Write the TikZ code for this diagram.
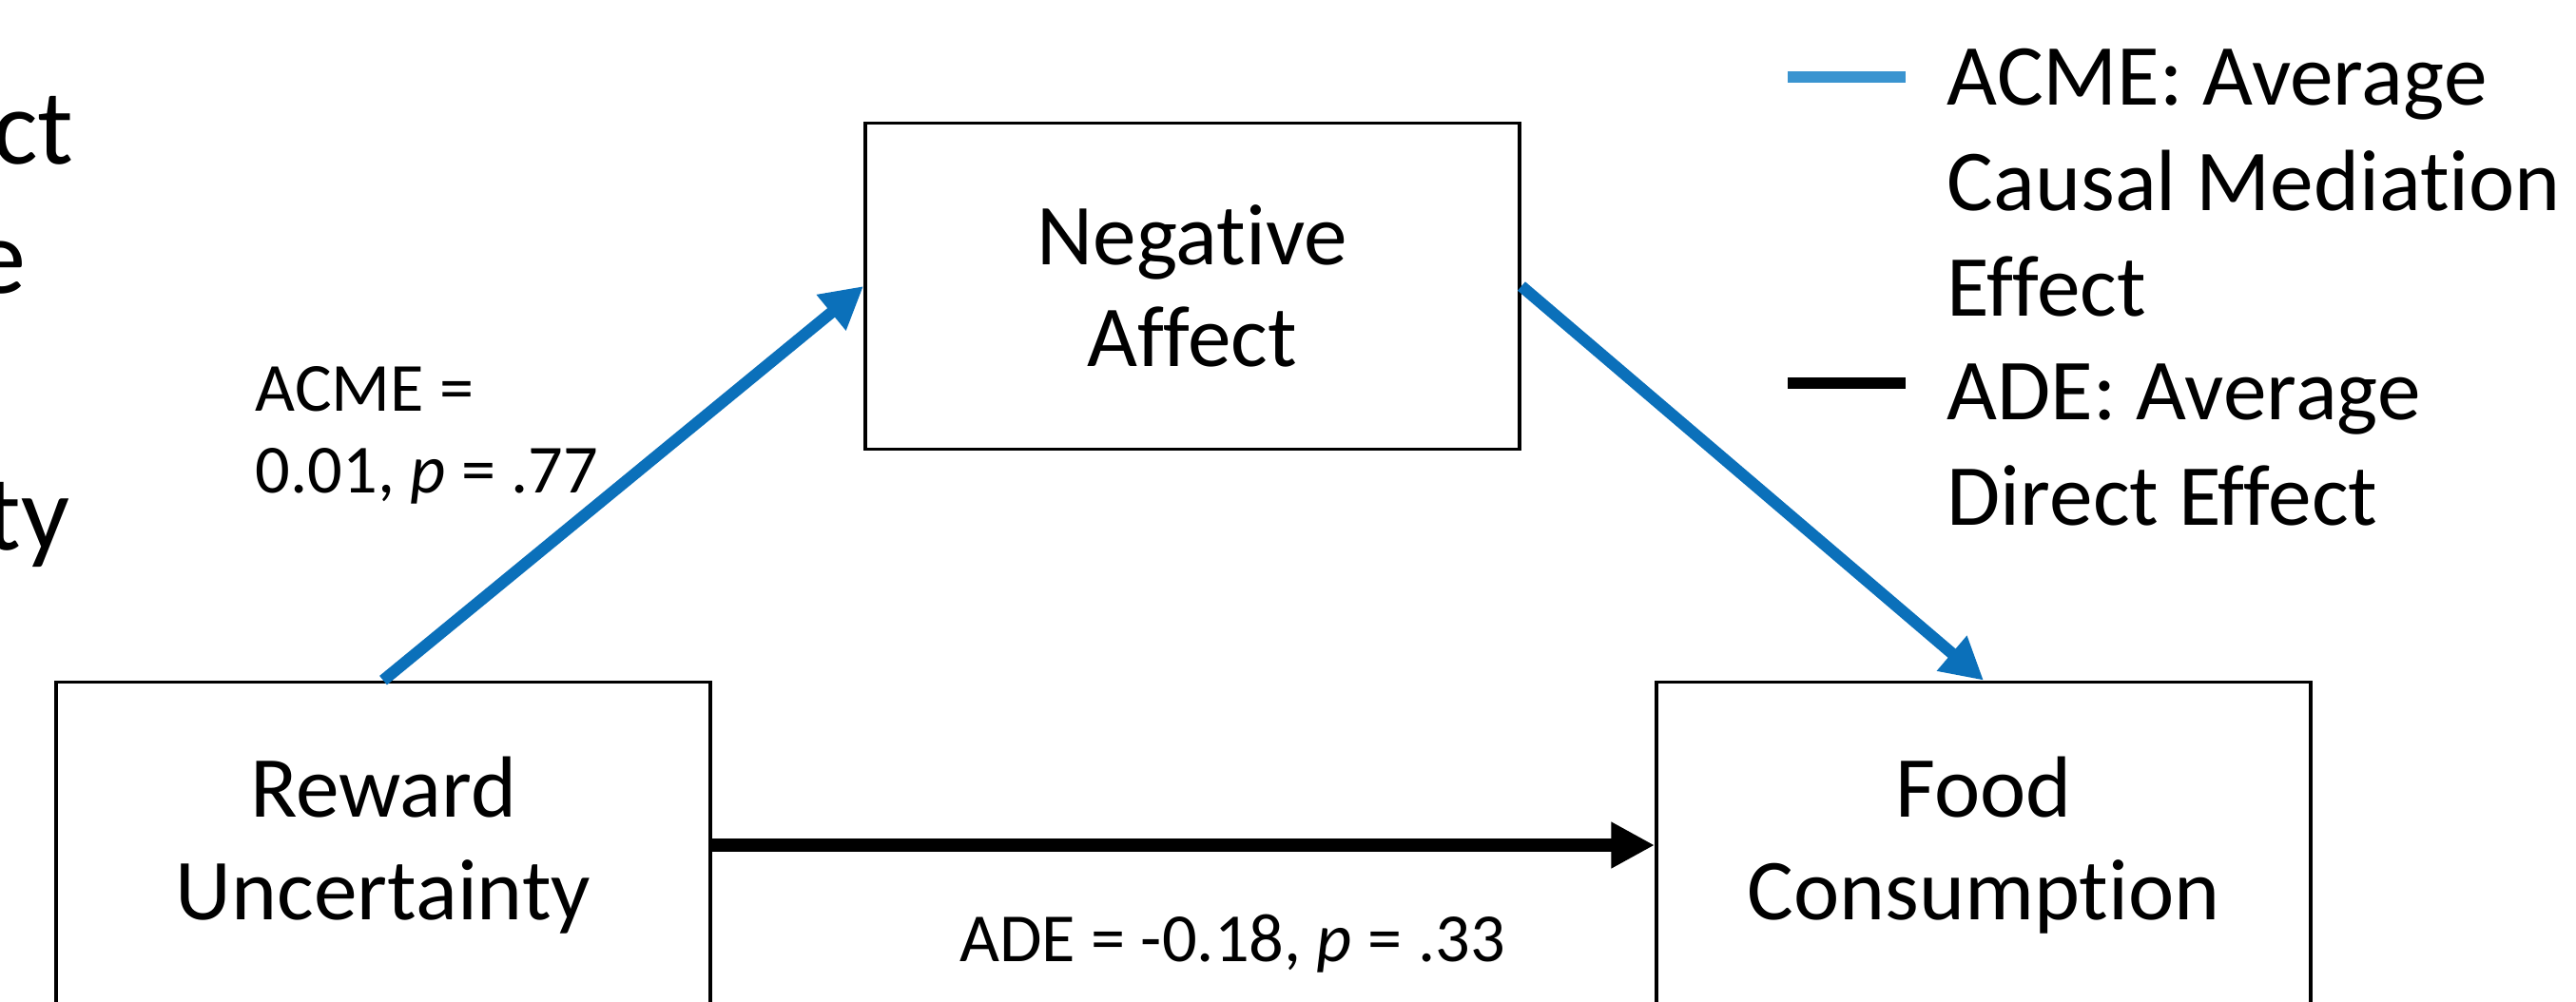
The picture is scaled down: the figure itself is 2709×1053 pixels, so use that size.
\documentclass[tikz,border=0pt]{standalone}
\usepackage{fontspec}
\setmainfont{Carlito}[Ligatures=NoCommon]
\usepackage{tikz}
\usetikzlibrary{arrows.meta}

\definecolor{acmeblue}{RGB}{11,112,186}
\definecolor{legblue}{RGB}{58,148,208}

\begin{document}
\begin{tikzpicture}[x=0.01cm, y=-0.01cm,
        box/.style={draw, line width=1pt, minimum width=6.88cm, minimum height=3.43cm,
          align=center, font=\fontsize{26}{30.5}\selectfont},
        acme/.style={draw=acmeblue, line width=3.5pt, -{Triangle[length=12.5pt, width=13pt]}},
        ade/.style={draw=black, line width=4.2pt, -{Triangle[length=13pt, width=13pt]}},
        lbl/.style={align=left, inner sep=0pt, font=\fontsize{20.6}{24.5}\selectfont},
        leg/.style={align=left, inner sep=0pt, font=\fontsize{26}{31.5}\selectfont},
        frag/.style={anchor=base east, inner sep=0pt, font=\fontsize{32}{38}\selectfont}]
        \useasboundingbox (0,0) rectangle (2709,1053);

        \node[frag] (f1) at (78,172) {ct};
        \node[frag] (f2) at (28,308) {e};
        \node[frag] (f3) at (74,578) {ty};

        \node[box] (NA) at (1254,301) {Negative\\Affect};
        \node[box] (RU) at (403,889) {Reward\\Uncertainty};
        \node[box] (FC) at (2086,889) {Food\\Consumption};

        \draw[acme] (RU.north) to (NA.west);
        \draw[acme] (NA.east) to (FC.north);
        \draw[ade] (RU.east) to (FC.west);

        \node[lbl, anchor=west] (acmeval) at (268,458) {ACME =\\0.01, \textit{p} = .77};
        \node[lbl] (adeval) at (1296,993) {ADE = -0.18, \textit{p} = .33};

        \coordinate (k1a) at (1880,81);
        \coordinate (k1b) at (2004,81);
        \coordinate (k2a) at (1880,403);
        \coordinate (k2b) at (2004,403);
        \draw[legblue, line width=3.4pt] (k1a) -- (k1b);
        \draw[black, line width=3.4pt] (k2a) -- (k2b);
        \node[leg, anchor=west] (acmekey) at (2047,192) {ACME: Average\\Causal Mediation\\Effect};
        \node[leg, anchor=west] (adekey) at (2047,468) {ADE: Average\\Direct Effect};
      \end{tikzpicture}
\end{document}
